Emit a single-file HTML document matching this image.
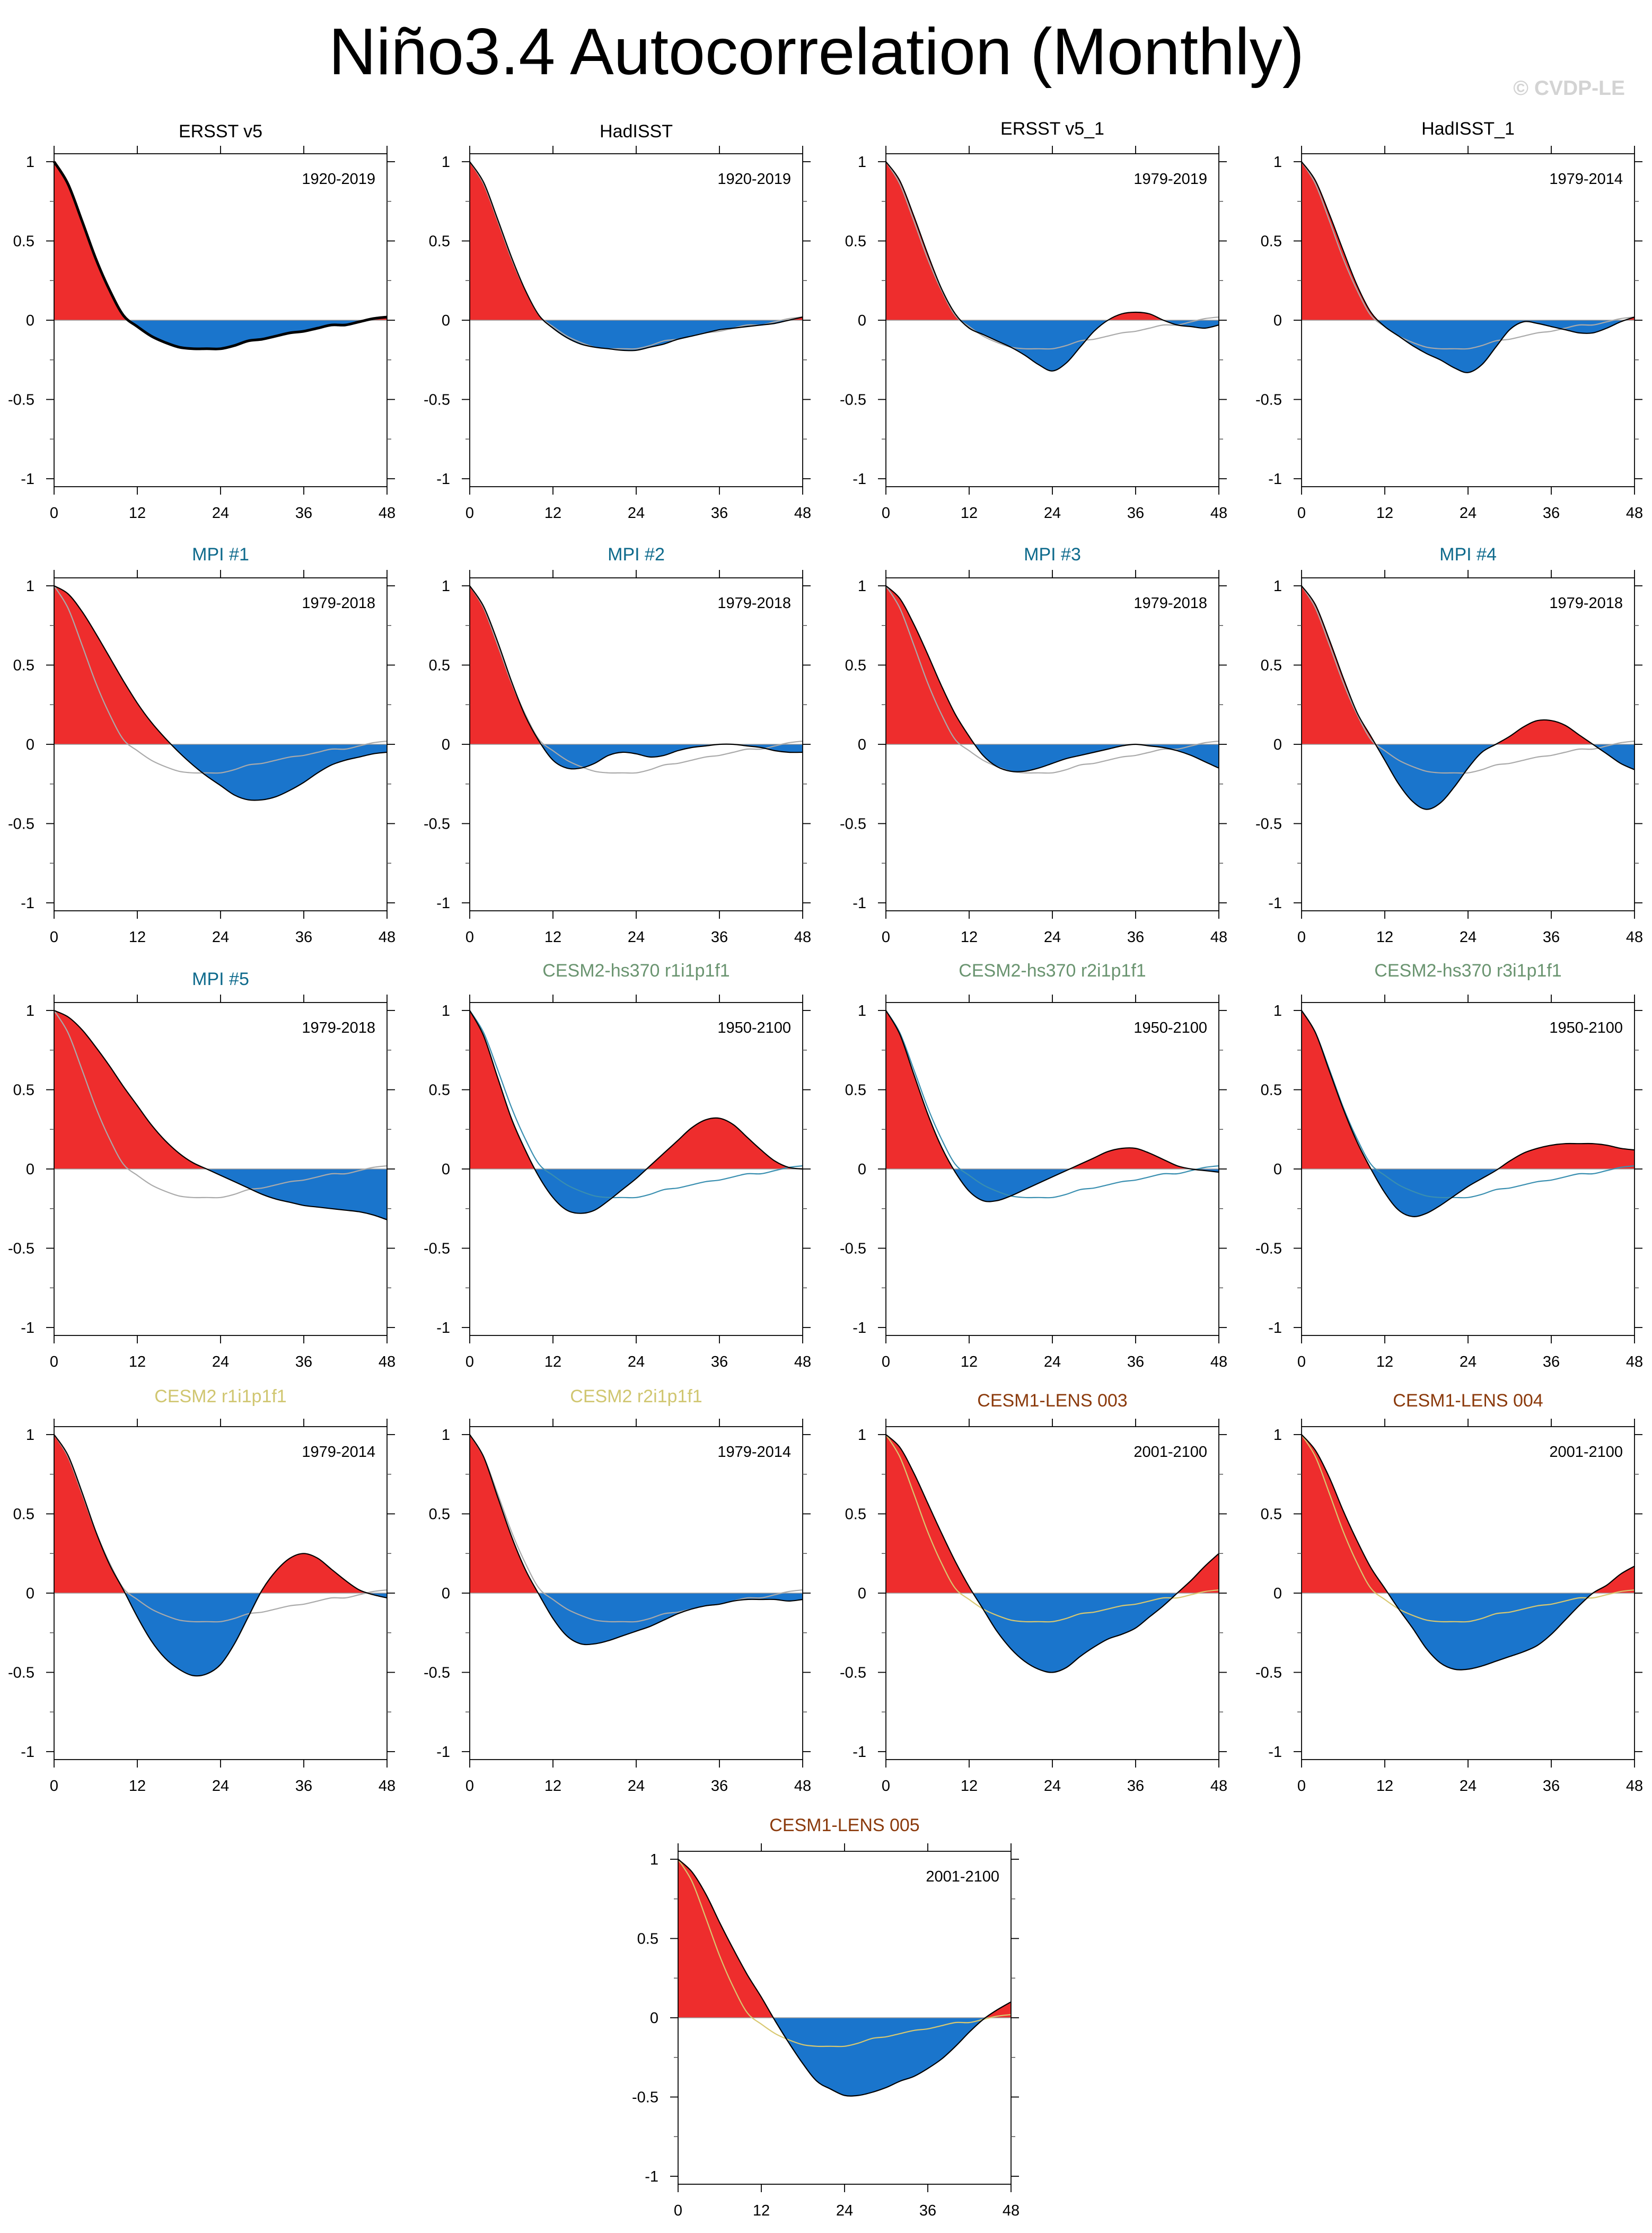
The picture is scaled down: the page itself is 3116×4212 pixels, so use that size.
<!DOCTYPE html>
<html><head><meta charset="utf-8"><style>
html,body{margin:0;padding:0;background:#fff;}
svg{display:block;font-family:"Liberation Sans",Arial,sans-serif;}
</style></head>
<body>
<svg id="fig" width="3116" height="4212" viewBox="0 0 3116 4212" xmlns="http://www.w3.org/2000/svg">
<text x="620" y="140" font-size="124" textLength="1840" lengthAdjust="spacingAndGlyphs">Niño3.4 Autocorrelation (Monthly)</text>
<text x="3065" y="179" font-size="39" font-weight="bold" fill="#d3d3d3" text-anchor="end">© CVDP-LE</text>
</svg>
<script>
// ---- data (lags 0..48 step 2) ----
const lags = [0,2,4,6,8,10,12,14,16,18,20,22,24,26,28,30,32,34,36,38,40,42,44,46,48];
const xTicks = [0,12,24,36,48];
const yTicks = [1,0.5,0,-0.5,-1];
const yTickLabels = ["1","0.5","0","-0.5","-1"];
const yMinorTicks = [0.75,0.25,-0.25,-0.75];
const refSeries = [1,0.86,0.63,0.39,0.19,0.03,-0.04,-0.10,-0.14,-0.17,-0.18,-0.18,-0.18,-0.16,-0.13,-0.12,-0.10,-0.08,-0.07,-0.05,-0.03,-0.03,-0.01,0.01,0.02];
const panelTitles = ["ERSST v5","HadISST","ERSST v5_1","HadISST_1","MPI #1","MPI #2","MPI #3","MPI #4","MPI #5","CESM2-hs370 r1i1p1f1","CESM2-hs370 r2i1p1f1","CESM2-hs370 r3i1p1f1","CESM2 r1i1p1f1","CESM2 r2i1p1f1","CESM1-LENS 003","CESM1-LENS 004","CESM1-LENS 005"];
const panelYears = ["1920-2019","1920-2019","1979-2019","1979-2014","1979-2018","1979-2018","1979-2018","1979-2018","1979-2018","1950-2100","1950-2100","1950-2100","1979-2014","1979-2014","2001-2100","2001-2100","2001-2100"];
const s01 = [1,0.86,0.63,0.39,0.19,0.03,-0.04,-0.10,-0.14,-0.17,-0.18,-0.18,-0.18,-0.16,-0.13,-0.12,-0.10,-0.08,-0.07,-0.05,-0.03,-0.03,-0.01,0.01,0.02];
const s02 = [1,0.87,0.64,0.40,0.19,0.03,-0.05,-0.11,-0.15,-0.17,-0.18,-0.19,-0.19,-0.17,-0.15,-0.12,-0.10,-0.08,-0.06,-0.05,-0.04,-0.03,-0.02,0.0,0.02];
const s03 = [1,0.88,0.66,0.42,0.2,0.04,-0.05,-0.09,-0.13,-0.17,-0.22,-0.28,-0.32,-0.27,-0.17,-0.07,0.0,0.04,0.05,0.04,0.0,-0.03,-0.04,-0.05,-0.03];
const s04 = [1,0.88,0.67,0.44,0.22,0.05,-0.04,-0.1,-0.16,-0.21,-0.25,-0.30,-0.33,-0.28,-0.17,-0.06,-0.01,-0.02,-0.04,-0.06,-0.08,-0.08,-0.05,-0.01,0.02];
const s05 = [1,0.95,0.84,0.70,0.55,0.40,0.26,0.14,0.04,-0.05,-0.13,-0.2,-0.26,-0.32,-0.35,-0.35,-0.33,-0.29,-0.24,-0.18,-0.13,-0.1,-0.08,-0.06,-0.05];
const s06 = [1,0.87,0.65,0.4,0.18,0.02,-0.1,-0.15,-0.15,-0.12,-0.07,-0.05,-0.06,-0.08,-0.07,-0.04,-0.02,-0.01,0.0,0.0,-0.01,-0.02,-0.04,-0.05,-0.05];
const s07 = [1,0.92,0.76,0.57,0.37,0.19,0.05,-0.07,-0.14,-0.17,-0.17,-0.15,-0.12,-0.09,-0.07,-0.05,-0.03,-0.01,0.0,-0.01,-0.02,-0.04,-0.07,-0.11,-0.15];
const s08 = [1,0.88,0.66,0.42,0.2,0.05,-0.1,-0.25,-0.36,-0.41,-0.37,-0.27,-0.15,-0.05,0.0,0.05,0.11,0.15,0.15,0.12,0.06,0.0,-0.06,-0.12,-0.16];
const s09 = [1,0.96,0.88,0.77,0.65,0.52,0.4,0.28,0.18,0.1,0.04,0.0,-0.04,-0.08,-0.12,-0.16,-0.19,-0.21,-0.23,-0.24,-0.25,-0.26,-0.27,-0.29,-0.32];
const s10 = [1,0.84,0.58,0.32,0.12,-0.05,-0.18,-0.26,-0.28,-0.26,-0.2,-0.13,-0.06,0.02,0.1,0.18,0.26,0.31,0.32,0.28,0.2,0.12,0.05,0.01,0.0];
const s11 = [1,0.85,0.6,0.35,0.14,-0.02,-0.14,-0.2,-0.2,-0.17,-0.13,-0.09,-0.05,-0.01,0.03,0.07,0.11,0.13,0.13,0.1,0.06,0.02,0.0,-0.01,-0.02];
const s12 = [1,0.86,0.62,0.38,0.17,0.0,-0.15,-0.26,-0.3,-0.28,-0.23,-0.17,-0.11,-0.06,-0.01,0.05,0.1,0.13,0.15,0.16,0.16,0.16,0.15,0.13,0.12];
const s13 = [1,0.87,0.64,0.39,0.18,0.02,-0.15,-0.3,-0.41,-0.48,-0.52,-0.51,-0.45,-0.32,-0.15,0.02,0.14,0.22,0.25,0.22,0.15,0.08,0.02,-0.01,-0.03];
const s14 = [1,0.86,0.61,0.36,0.15,-0.01,-0.16,-0.27,-0.32,-0.32,-0.3,-0.27,-0.24,-0.21,-0.17,-0.13,-0.1,-0.08,-0.07,-0.05,-0.04,-0.04,-0.04,-0.05,-0.04];
const s15 = [1,0.92,0.76,0.57,0.38,0.2,0.04,-0.1,-0.24,-0.35,-0.43,-0.48,-0.50,-0.47,-0.40,-0.34,-0.29,-0.26,-0.22,-0.15,-0.08,0.0,0.08,0.17,0.25];
const s16 = [1,0.9,0.73,0.52,0.33,0.16,0.03,-0.1,-0.22,-0.35,-0.44,-0.48,-0.48,-0.46,-0.43,-0.4,-0.37,-0.33,-0.26,-0.17,-0.08,0.0,0.05,0.12,0.17];
const s17 = [1,0.92,0.78,0.60,0.43,0.27,0.13,-0.02,-0.16,-0.29,-0.40,-0.45,-0.49,-0.49,-0.47,-0.44,-0.40,-0.37,-0.32,-0.26,-0.18,-0.09,-0.01,0.05,0.1];
const series = [s01,s02,s03,s04,s05,s06,s07,s08,s09,s10,s11,s12,s13,s14,s15,s16,s17];

// ---- styling / layout ----
const titleColors = ["#000","#000","#000","#000","#0e6a8c","#0e6a8c","#0e6a8c","#0e6a8c","#0e6a8c","#6a9470","#6a9470","#6a9470","#d0c670","#d0c670","#8b3a0c","#8b3a0c","#8b3a0c"];
const refColors = [null,"#aaaaaa","#aaaaaa","#aaaaaa","#aaaaaa","#aaaaaa","#aaaaaa","#aaaaaa","#aaaaaa","#3a8fb0","#3a8fb0","#3a8fb0","#aaaaaa","#aaaaaa","#d8c870","#d8c870","#d8c870"];
const titleOffsets = [31,31,36,36,33,33,33,33,33,49,49,49,46,46,38,38,38];
const colL = [102,886,1671,2455];
const rowT = [290,1090,1891,2691,3492];
const W = 628, H = 628;
const NS = "http://www.w3.org/2000/svg";
const svg = document.getElementById('fig');

function mk(tag, attrs, parent){
  const e = document.createElementNS(NS, tag);
  for (const k in attrs) e.setAttribute(k, attrs[k]);
  parent.appendChild(e);
  return e;
}
function smoothPath(pts){
  let d = "M" + pts[0][0] + "," + pts[0][1];
  for (let i=0;i<pts.length-1;i++){
    const p0 = pts[Math.max(0,i-1)], p1 = pts[i], p2 = pts[i+1], p3 = pts[Math.min(pts.length-1,i+2)];
    const c1x = p1[0]+(p2[0]-p0[0])/6, c1y = p1[1]+(p2[1]-p0[1])/6;
    const c2x = p2[0]-(p3[0]-p1[0])/6, c2y = p2[1]-(p3[1]-p1[1])/6;
    d += " C"+c1x.toFixed(1)+","+c1y.toFixed(1)+" "+c2x.toFixed(1)+","+c2y.toFixed(1)+" "+p2[0].toFixed(1)+","+p2[1].toFixed(1);
  }
  return d;
}

for (let p=0; p<series.length; p++){
  const L = p<16 ? colL[p%4] : 1279;
  const T = rowT[Math.floor(p/4)];
  const xS = v => L + v/48*W;
  const yS = v => T + 314 - v*299;
  const g = mk('g', {}, svg);
  
  

  const cpPos = mk('clipPath', {id:'cp'+p}, g);
  mk('rect', {x:L, y:T, width:W, height:314}, cpPos);
  const cpNeg = mk('clipPath', {id:'cn'+p}, g);
  mk('rect', {x:L, y:T+314, width:W, height:H-314}, cpNeg);

  const pts = lags.map((l,i)=>[xS(l), yS(series[p][i])]);
  const curve = smoothPath(pts);
  const area = curve + " L" + xS(48) + "," + yS(0) + " L" + xS(0) + "," + yS(0) + " Z";
  const pos = mk('path', {d:area, fill:'#ee2d2d', 'clip-path':'url(#cp'+p+')'}, g);
  
  
  const neg = mk('path', {d:area, fill:'#1a75cc', 'clip-path':'url(#cn'+p+')'}, g);
  
  

  const zl = mk('line', {x1:L, x2:L+W, y1:yS(0), y2:yS(0), stroke:'#999', 'stroke-width':1.5}, g);
  
  

  if (refColors[p]){
    const rpts = lags.map((l,i)=>[xS(l), yS(refSeries[i])]);
    const rl = mk('path', {d:smoothPath(rpts), fill:'none', stroke:refColors[p], 'stroke-width':2.2}, g);
    
    
  }
  const ml = mk('path', {d:curve, fill:'none', stroke:'#000', 'stroke-width': p===0?5:2.2}, g);
  
  

  const fr = mk('rect', {x:L, y:T, width:W, height:H, fill:'none', stroke:'#000', 'stroke-width':1.8}, g);
  
  

  xTicks.forEach(v=>{
    const x = xS(v);
    mk('line', {x1:x, x2:x, y1:T-15, y2:T, stroke:'#000', 'stroke-width':1.8}, g);
    mk('line', {x1:x, x2:x, y1:T+H, y2:T+H+15, stroke:'#000', 'stroke-width':1.8}, g);
    const t = mk('text', {x:x, y:T+H+59, 'font-size':29, 'text-anchor':'middle'}, g);
    
    
    t.textContent = v;
  });
  yTicks.forEach((v,i)=>{
    const y = yS(v);
    mk('line', {x1:L-15, x2:L, y1:y, y2:y, stroke:'#000', 'stroke-width':1.8}, g);
    mk('line', {x1:L+W, x2:L+W+15, y1:y, y2:y, stroke:'#000', 'stroke-width':1.8}, g);
    const t = mk('text', {x:L-37, y:y+10, 'font-size':29, 'text-anchor':'end'}, g);
    
    
    t.textContent = yTickLabels[i];
  });
  yMinorTicks.forEach(v=>{
    const y = yS(v);
    mk('line', {x1:L-8, x2:L, y1:y, y2:y, stroke:'#555', 'stroke-width':1.5}, g);
    mk('line', {x1:L+W, x2:L+W+8, y1:y, y2:y, stroke:'#555', 'stroke-width':1.5}, g);
  });

  const tt = mk('text', {x:L+W/2, y:T-titleOffsets[p], 'font-size':34, 'text-anchor':'middle', fill:titleColors[p]}, g);
  
  
  tt.textContent = panelTitles[p];
  const yr = mk('text', {x:L+W-22, y:T+57, 'font-size':29, 'text-anchor':'end'}, g);
  
  
  yr.textContent = panelYears[p];
}
</script>
</body></html>
